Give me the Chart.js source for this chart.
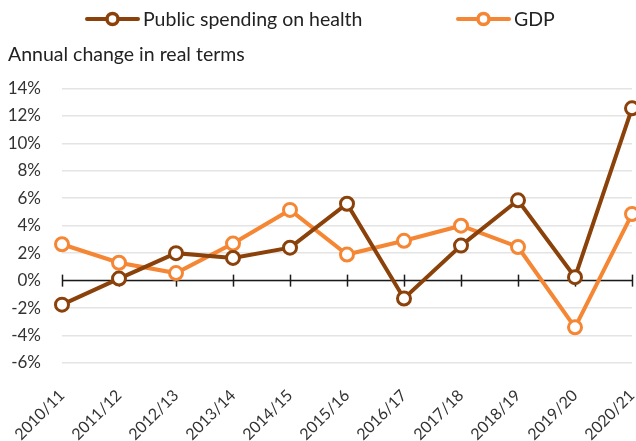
<!DOCTYPE html>
<html><head><meta charset="utf-8">
<script src="https://cdn.jsdelivr.net/npm/chart.js@4"></script>
<style>html,body{margin:0;padding:0;background:#fff}#wrap{width:636px;height:441px}</style>
</head><body><div id="wrap"><canvas id="c"></canvas></div>
<script>
const categories = ["2010/11","2011/12","2012/13","2013/14","2014/15","2015/16","2016/17","2017/18","2018/19","2019/20","2020/21"];
const healthSpending = [-1.75, 0.15, 2.0, 1.65, 2.4, 5.6, -1.3, 2.55, 5.85, 0.25, 12.55];
const gdp = [2.65, 1.3, 0.55, 2.7, 5.15, 1.9, 2.9, 4.0, 2.45, -3.4, 4.85];
const yTicks = [14,12,10,8,6,4,2,0,-2,-4,-6];
const seriesNames = ["Public spending on health","GDP"];
const colors = ["#8b410a","#f58634"];
const FONT = "Lato";

// custom legend: line segment with an open circle, followed by label text
const lineLegend = {
  id:'lineLegend',
  afterDraw(chart){
    const ctx = chart.ctx;
    const items = [{left:85, textX:143}, {left:456, textX:514}];
    const cy = 19;
    ctx.save();
    chart.data.datasets.forEach((ds,i)=>{
      const it = items[i];
      ctx.strokeStyle = ds.borderColor; ctx.lineWidth = 4; ctx.lineCap = 'round';
      ctx.beginPath(); ctx.moveTo(it.left+2, cy); ctx.lineTo(it.left+53, cy); ctx.stroke();
      ctx.beginPath(); ctx.arc(it.left+27.5, cy, 5.5, 0, Math.PI*2);
      ctx.fillStyle = '#fff'; ctx.fill(); ctx.lineWidth = 3.5; ctx.stroke();
      ctx.fillStyle = '#222'; ctx.font = `19.5px ${FONT}`; ctx.textBaseline = 'middle'; ctx.textAlign='left';
      ctx.fillText(ds.label, it.textX, cy+1);
    });
    ctx.restore();
  }
};

const zeroAxis = {
  id:'zeroAxis',
  beforeDatasetsDraw(chart){
    const {ctx, scales:{x,y}, chartArea} = chart;
    const y0 = y.getPixelForValue(0);
    ctx.save();
    ctx.strokeStyle = '#1a1a1a'; ctx.lineWidth = 1.5;
    ctx.beginPath(); ctx.moveTo(chartArea.left, y0); ctx.lineTo(chartArea.right, y0); ctx.stroke();
    for (let i=0;i<categories.length;i++){
      const px = Math.round(x.getPixelForValue(i))+0.5;
      ctx.beginPath(); ctx.moveTo(px, y0-6); ctx.lineTo(px, y0+6); ctx.stroke();
    }
    ctx.restore();
  }
};

new Chart(document.getElementById('c'), {
  type:'line',
  data:{
    labels:categories,
    datasets:[
      {label:seriesNames[0], data:healthSpending, borderColor:colors[0], backgroundColor:'#fff', borderWidth:4,
       pointRadius:6.5, pointBorderWidth:3, pointBackgroundColor:'#fff', pointBorderColor:colors[0], clip:false},
      {label:seriesNames[1], data:gdp, borderColor:colors[1], backgroundColor:'#fff', borderWidth:4,
       pointRadius:6.5, pointBorderWidth:3, pointBackgroundColor:'#fff', pointBorderColor:colors[1], clip:false}
    ]
  },
  options:{
    responsive:true, maintainAspectRatio:false, animation:false,
    layout:{autoPadding:false, padding:{left:8,right:4,top:36,bottom:0}},
    plugins:{
      legend:{display:false},
      title:{display:true, text:'Annual change in real terms', align:'start', color:'#222',
        font:{family:FONT,size:19.5,weight:'normal'}, padding:{top:7,bottom:22}},
      tooltip:{enabled:false}
    },
    scales:{
      x:{grid:{display:false, drawTicks:false}, border:{display:false},
        afterFit(s){ s.height = 78; s.paddingLeft = 0; s.paddingRight = 0; },
        ticks:{color:'#333', font:{family:FONT,size:16}, maxRotation:45, minRotation:45, padding:23}},
      y:{min:-6,max:14, border:{display:false},
        grid:{color:'#e4e4e4', lineWidth:1.5, drawTicks:false},
        afterBuildTicks(s){ s.ticks = yTicks.map(v=>({value:v})); },
        afterFit(s){ s.width = 54; },
        ticks:{color:'#333', font:{family:FONT,size:17}, padding:21, callback:v=>v+'%'}}
    }
  },
  plugins:[zeroAxis, lineLegend]
});
</script></body></html>
